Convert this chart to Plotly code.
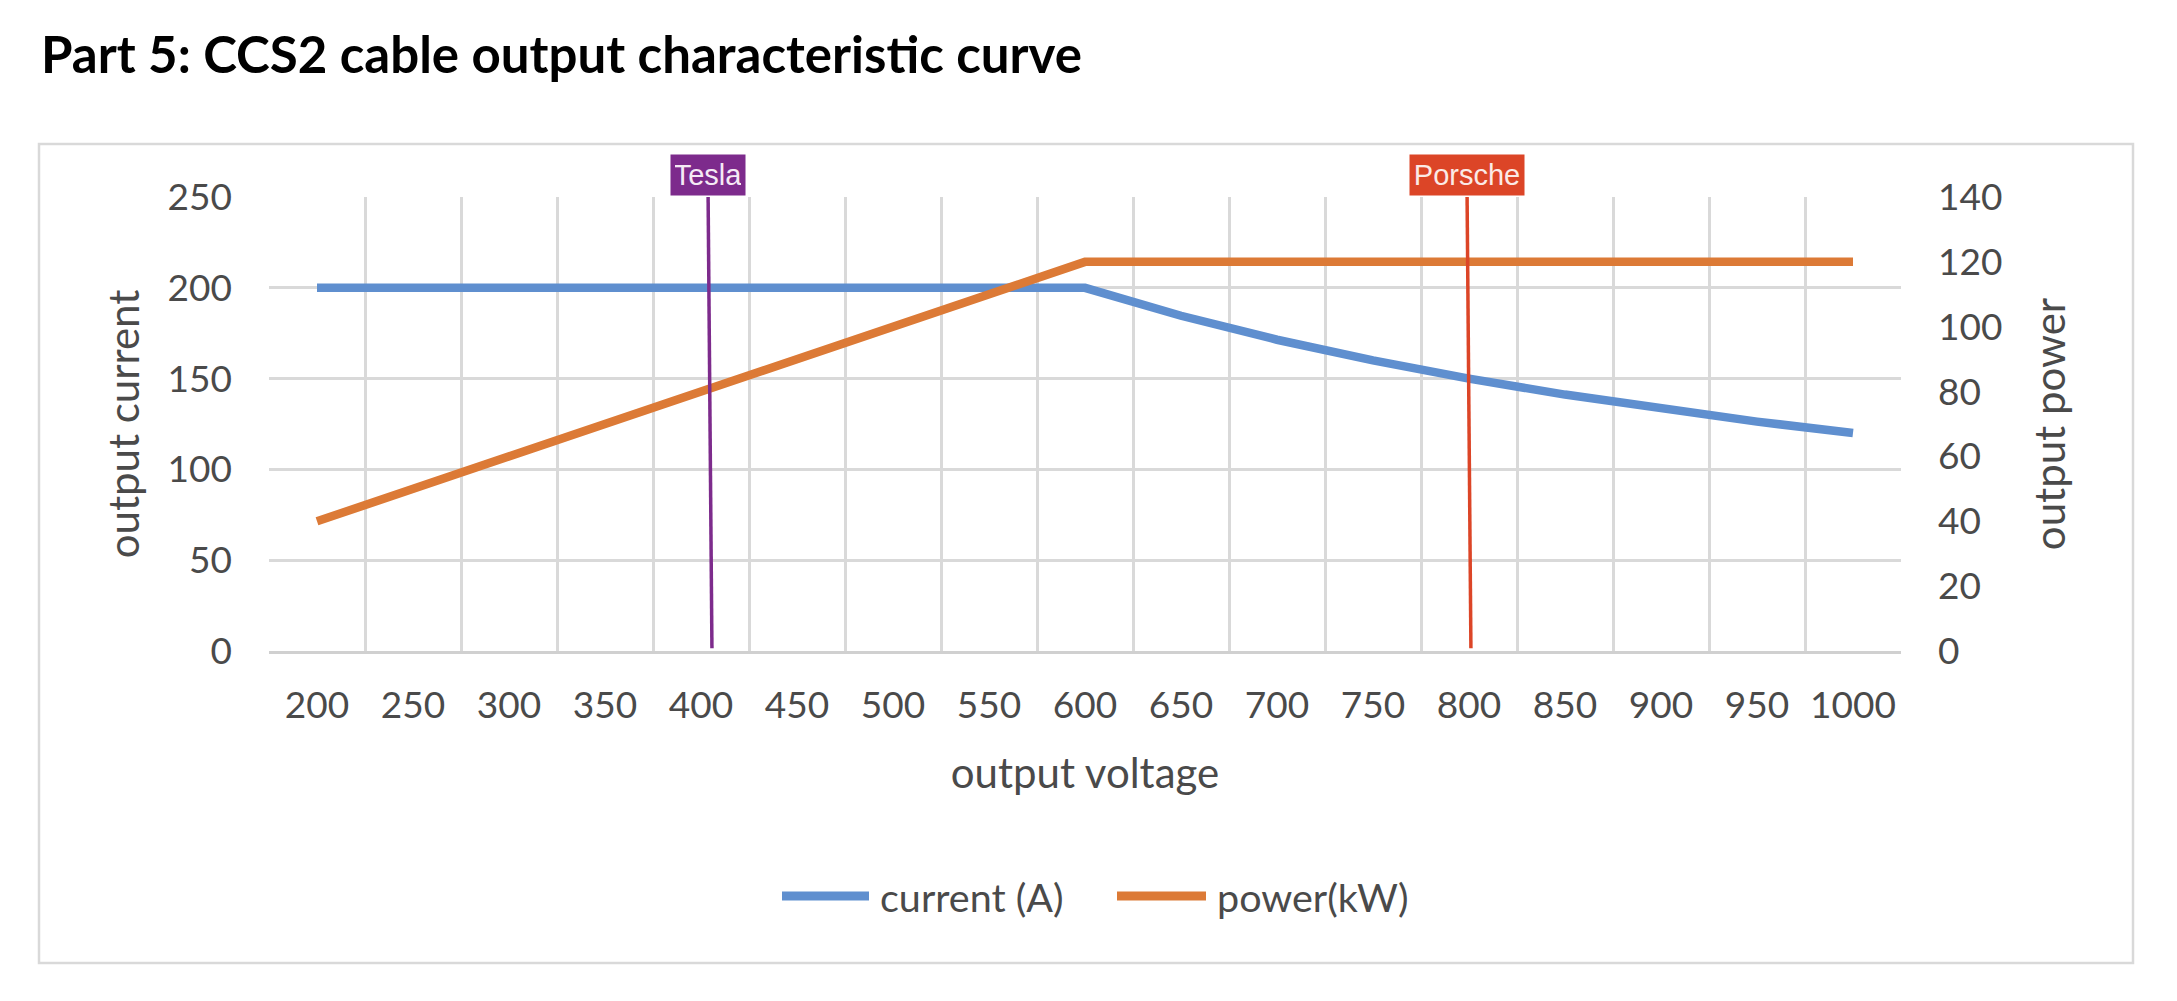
import plotly.graph_objects as go

# ---------------- data ----------------
voltage = [200, 250, 300, 350, 400, 450, 500, 550, 600, 650, 700, 750, 800, 850, 900, 950, 1000]
current_a = [200, 200, 200, 200, 200, 200, 200, 200, 200, 184.6, 171.4, 160, 150, 141.2, 133.3, 126.3, 120]
power_kw = [40, 50, 60, 70, 80, 90, 100, 110, 120, 120, 120, 120, 120, 120, 120, 120, 120]
tick_labels = [str(v) for v in voltage]

tesla_v = [403.7, 405.7]      # top, bottom (slightly slanted marker line)
porsche_v = [799.0, 801.0]

# ---------------- geometry ----------------
W, H = 2177, 1001
ML, MR, MT, MB = 269, 276, 197, 350
PW = W - ML - MR
PH = H - MT - MB


def px(x):
    return (x - ML) / PW


def py(y):
    return (H - MB - y) / PH


TXT = "#4a4a4a"
GRID = "#d9d9d9"
BLUE = "#5f8fcf"
ORANGE = "#dc7a36"
PURPLE = "#7d2b8c"
RED = "#dc4527"
FONT = "Lato, 'Open Sans', sans-serif"

fig = go.Figure()
fig.add_trace(go.Scatter(x=voltage, y=current_a, mode="lines", name="current (A)",
                         line=dict(color=BLUE, width=8.5), yaxis="y", showlegend=False))
fig.add_trace(go.Scatter(x=voltage, y=power_kw, mode="lines", name="power(kW)",
                         line=dict(color=ORANGE, width=8.5), yaxis="y2", showlegend=False))

shapes = []
# outer chart frame
shapes.append(dict(type="rect", xref="paper", yref="paper",
                   x0=px(39), x1=px(2133), y0=py(963), y1=py(144),
                   line=dict(color=GRID, width=2.5), fillcolor="rgba(0,0,0,0)", layer="below"))
# marker lines
shapes.append(dict(type="line", xref="x", yref="y", x0=tesla_v[0], x1=tesla_v[1],
                   y0=250.6, y1=1.5, line=dict(color=PURPLE, width=3.5)))
shapes.append(dict(type="line", xref="x", yref="y", x0=porsche_v[0], x1=porsche_v[1],
                   y0=250.6, y1=1.5, line=dict(color=RED, width=3.5)))
# legend lines
shapes.append(dict(type="line", xref="paper", yref="paper", x0=px(782), x1=px(869),
                   y0=py(896), y1=py(896), line=dict(color=BLUE, width=9)))
shapes.append(dict(type="line", xref="paper", yref="paper", x0=px(1117), x1=px(1206),
                   y0=py(896), y1=py(896), line=dict(color=ORANGE, width=9)))

annotations = [
    dict(text="<b>Part 5: CCS2 cable output characteristic curve</b>", xref="paper", yref="paper",
         x=px(39), y=py(53), xanchor="left", yanchor="middle", showarrow=False,
         font=dict(family=FONT, size=51, color="#000000")),
    dict(text="Tesla", xref="x", yref="paper", x=tesla_v[0], y=py(175), xanchor="center",
         yanchor="middle", showarrow=False, bgcolor=PURPLE, width=66, height=32, borderpad=4,
         font=dict(family="Liberation Sans, Arial, sans-serif", size=29, color="#f5eaf5")),
    dict(text="Porsche", xref="x", yref="paper", x=porsche_v[0], y=py(175), xanchor="center",
         yanchor="middle", showarrow=False, bgcolor=RED, width=106, height=32, borderpad=4,
         font=dict(family="Liberation Sans, Arial, sans-serif", size=29, color="#fbeae6")),
    dict(text="current (A)", xref="paper", yref="paper", x=px(878), y=py(896),
         xanchor="left", yanchor="middle", showarrow=False,
         font=dict(family=FONT, size=39.5, color=TXT)),
    dict(text="power(kW)", xref="paper", yref="paper", x=px(1215), y=py(896),
         xanchor="left", yanchor="middle", showarrow=False,
         font=dict(family=FONT, size=39.5, color=TXT)),
]

fig.update_layout(
    width=W, height=H,
    margin=dict(l=ML, r=MR, t=MT, b=MB, autoexpand=False),
    paper_bgcolor="white", plot_bgcolor="white",
    font=dict(family=FONT, size=37, color=TXT),
    shapes=shapes, annotations=annotations,
    showlegend=False,
    xaxis=dict(
        range=[175, 1025], tickmode="array", tickvals=voltage, ticktext=tick_labels,
        showgrid=False, zeroline=False, showline=True, linecolor="#d0d0d0", linewidth=3,
        ticks="", ticklabelstandoff=20, tickfont=dict(size=37, color=TXT),
        minor=dict(tick0=175, dtick=50, showgrid=True, gridcolor=GRID, gridwidth=2.5, ticks=""),
        title=dict(text="output voltage", font=dict(size=42, color=TXT), standoff=34),
        fixedrange=True,
    ),
    yaxis=dict(
        range=[0, 250], tickmode="linear", tick0=0, dtick=50,
        showgrid=True, gridcolor=GRID, gridwidth=2.5, zeroline=False, showline=False,
        ticks="", ticklabelstandoff=36, tickfont=dict(size=37, color=TXT),
        title=dict(text="output current", font=dict(size=42, color=TXT), standoff=14),
    ),
    yaxis2=dict(
        range=[0, 140], tickmode="linear", tick0=0, dtick=20, overlaying="y", side="right",
        showgrid=False, zeroline=False, showline=False,
        ticks="", ticklabelstandoff=36, tickfont=dict(size=37, color=TXT),
        title=dict(text="output power", font=dict(size=42, color=TXT), standoff=34),
    ),
)

fig.write_html("out.html")
